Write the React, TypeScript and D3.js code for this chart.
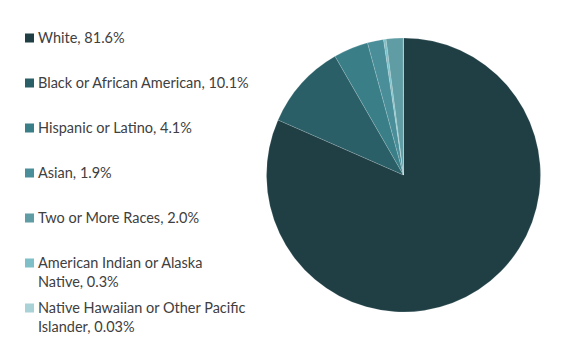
import React from "react";
import * as d3 from "d3";

const categories = [
  "White",
  "Black or African American",
  "Hispanic or Latino",
  "Asian",
  "Two or More Races",
  "American Indian or Alaska Native",
  "Native Hawaiian or Other Pacific Islander",
];
const values = [81.6, 10.1, 4.1, 1.9, 2.0, 0.3, 0.03];
const valueLabels = ["81.6%", "10.1%", "4.1%", "1.9%", "2.0%", "0.3%", "0.03%"];
const colors = ["#1f3f45", "#2b5f67", "#3a7e88", "#4a8e99", "#5f9ca3", "#7fc0c8", "#a9d2d7"];
// order of slices clockwise from 12 o'clock
const pieOrder = [0, 1, 2, 3, 5, 4, 6];
// legend lines (wrapped as in the reference)
const legendLines = [
  ["White, 81.6%"],
  ["Black or African American, 10.1%"],
  ["Hispanic or Latino, 4.1%"],
  ["Asian, 1.9%"],
  ["Two or More Races, 2.0%"],
  ["American Indian or Alaska", "Native, 0.3%"],
  ["Native Hawaiian or Other Pacific", "Islander, 0.03%"],
];
const legendY = [38, 83, 128, 173, 218, 263, 308];

export default function App() {
  const W = 568, H = 354;
  const cx = 403.5, cy = 175, r = 137;
  const data = pieOrder.map((i) => ({ i, v: values[i] }));
  const pie = d3.pie<{ i: number; v: number }>().sort(null).value((d) => d.v);
  const arcs = pie(data);
  const arc = d3.arc<d3.PieArcDatum<{ i: number; v: number }>>().innerRadius(0).outerRadius(r);
  return (
    <svg width={W} height={H} style={{ position: "absolute", left: 0, top: 0 }} fontFamily="Lato, 'Open Sans', sans-serif">
      <rect width={W} height={H} fill="#fff" />
      <g transform={`translate(${cx},${cy})`}>
        {arcs.map((a) => (
          <path key={a.data.i} d={arc(a) || ""} fill={colors[a.data.i]} stroke="#ffffff" strokeWidth={0.25} strokeOpacity={0.6} />
        ))}
      </g>
      {categories.map((c, i) => (
        <g key={c}>
          <rect x={25} y={legendY[i] - 4.5} width={9} height={9} fill={colors[i]} />
          <text x={38} y={legendY[i]} dy="0.35em" fontSize={14.5} fill="#404040">
            {legendLines[i].map((l, j) => (
              <tspan key={j} x={38} dy={j === 0 ? "0.35em" : 19}>{l}</tspan>
            ))}
          </text>
        </g>
      ))}
    </svg>
  );
}
